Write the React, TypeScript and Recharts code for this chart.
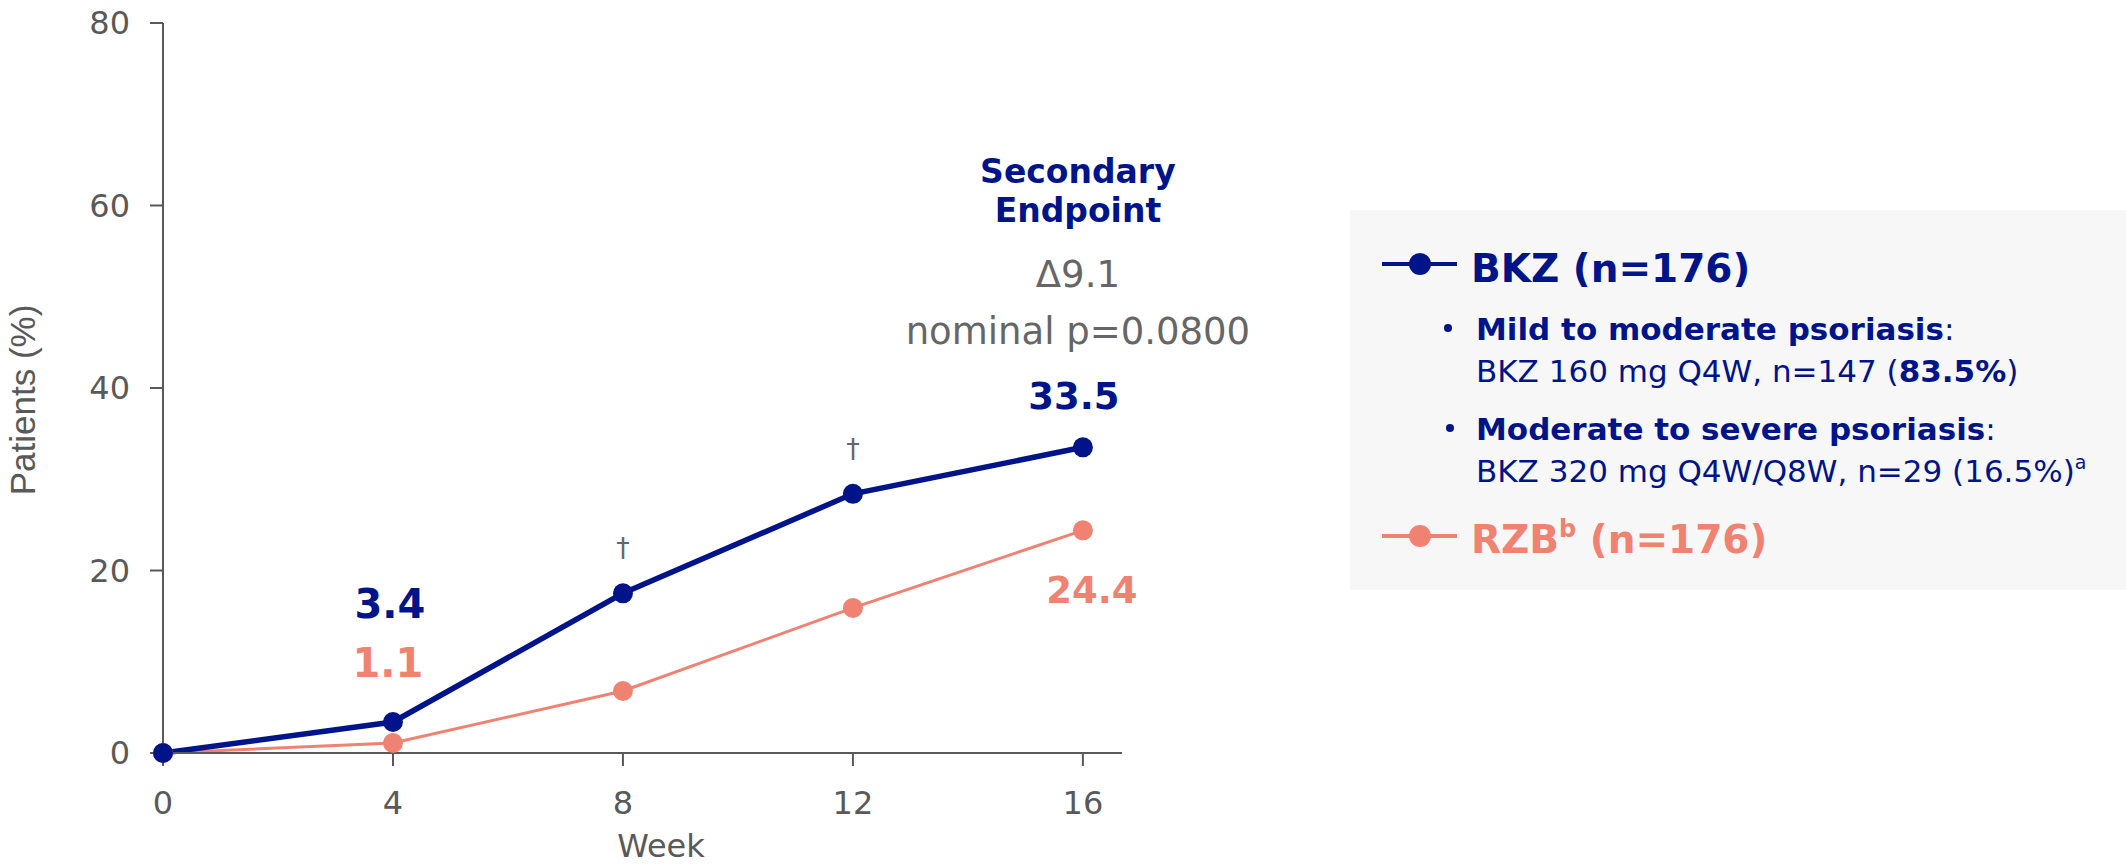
import React from 'react';
import { LineChart, Line, XAxis, YAxis, Legend, LabelList } from 'recharts';

// Proportion of patients (%) by week, per treatment arm
const weeks = [0, 4, 8, 12, 16];
const bkzValues = [0, 3.4, 17.5, 28.4, 33.5];
const rzbValues = [0, 1.1, 6.8, 15.9, 24.4];
const yTicks = [0, 20, 40, 60, 80];
const xTicks = [0, 4, 8, 12, 16];

// Weeks whose values are printed, and weeks flagged with a dagger
const labelledWeeks = [4, 16];
const daggerWeeks = [8, 12];
const endpointWeek = 16;
const endpointTitle = ['Secondary', 'Endpoint'];
const pValueText = 'nominal p=0.0800';

const NAVY = '#00148A';
const SALMON = '#F08272';
const AXIS = '#595959';
const NOTE = '#666666';
const SANS = "'Liberation Sans', Arial, sans-serif";
const WIDE = "'DejaVu Sans', Verdana, sans-serif";

const data = weeks.map((week, i) => ({ week, bkz: bkzValues[i], rzb: rzbValues[i] }));

const pointOf = (props: any) => ({
  x: props.x ?? props.viewBox?.x,
  y: props.y ?? props.viewBox?.y,
});

const renderBkzLabel = (props: any) => {
  const { x, y } = pointOf(props);
  const week = weeks[props.index];
  if (x == null || y == null) return null;
  const parts: React.ReactNode[] = [];
  if (daggerWeeks.includes(week)) {
    parts.push(
      <text key="d" x={x} y={y - 36} textAnchor="middle" fill={NOTE} fontSize={27} fontFamily={WIDE}>
        †
      </text>
    );
  }
  if (labelledWeeks.includes(week)) {
    const big = week !== endpointWeek;
    parts.push(
      <text
        key="v"
        x={x + (big ? -3 : -9)}
        y={y + (big ? -104 : -38)}
        textAnchor="middle"
        fill={NAVY}
        fontSize={big ? 40 : 37}
        fontWeight="bold"
        fontFamily={WIDE}
      >
        {props.value}
      </text>
    );
  }
  if (week === endpointWeek) {
    const last = bkzValues.length - 1;
    const delta = (bkzValues[last] - rzbValues[last]).toFixed(1);
    const cx = x - 5;
    parts.push(
      <g key="e">
        <text x={cx} y={y - 264} textAnchor="middle" fill={NAVY} fontSize={33} fontWeight="bold" fontFamily={WIDE}>
          {endpointTitle[0]}
        </text>
        <text x={cx} y={y - 225} textAnchor="middle" fill={NAVY} fontSize={33} fontWeight="bold" fontFamily={WIDE}>
          {endpointTitle[1]}
        </text>
        <text x={cx} y={y - 160} textAnchor="middle" fill={NOTE} fontSize={37} fontFamily={WIDE}>
          {`Δ${delta}`}
        </text>
        <text x={cx} y={y - 103} textAnchor="middle" fill={NOTE} fontSize={37} fontFamily={WIDE}>
          {pValueText}
        </text>
      </g>
    );
  }
  return <g>{parts}</g>;
};

const renderRzbLabel = (props: any) => {
  const { x, y } = pointOf(props);
  const week = weeks[props.index];
  if (x == null || y == null || !labelledWeeks.includes(week)) return null;
  const big = week !== endpointWeek;
  return (
    <text
      x={x + (big ? -5 : 9)}
      y={y + (big ? -66 : 73)}
      textAnchor="middle"
      fill={SALMON}
      fontSize={big ? 40 : 37}
      fontWeight="bold"
      fontFamily={WIDE}
    >
      {props.value}
    </text>
  );
};

const renderLegend = (props: any) => {
  const payload: any[] = props.payload || [];
  const colorOf = (key: string, fallback: string) =>
    payload.find((p) => p.dataKey === key)?.color || fallback;
  const bkz = colorOf('bkz', NAVY);
  const rzb = colorOf('rzb', SALMON);
  return (
    <svg width={776} height={380} style={{ display: 'block' }}>
      <rect x={0} y={0} width={776} height={380} fill="#F7F7F7" />
      <line x1={32} x2={107} y1={54} y2={54} stroke={bkz} strokeWidth={4} />
      <circle cx={70} cy={54} r={11} fill={bkz} />
      <text x={121} y={72} fill={bkz} fontSize={39} fontWeight="bold" fontFamily={WIDE}>
        BKZ (n=176)
      </text>

      <circle cx={98} cy={118} r={4} fill={bkz} />
      <text x={126} y={130} fill={bkz} fontSize={31} fontFamily={WIDE}>
        <tspan fontWeight="bold">Mild to moderate psoriasis</tspan>:
      </text>
      <text x={126} y={172} fill={bkz} fontSize={31} fontFamily={WIDE}>
        BKZ 160 mg Q4W, n=147 (<tspan fontWeight="bold">83.5%</tspan>)
      </text>

      <circle cx={100} cy={218} r={4} fill={bkz} />
      <text x={126} y={230} fill={bkz} fontSize={31} fontFamily={WIDE}>
        <tspan fontWeight="bold">Moderate to severe psoriasis</tspan>:
      </text>
      <text x={126} y={272} fill={bkz} fontSize={31} fontFamily={WIDE}>
        BKZ 320 mg Q4W/Q8W, n=29 (16.5%)
        <tspan fontSize={19} dy={-13}>a</tspan>
      </text>

      <line x1={32} x2={107} y1={326} y2={326} stroke={rzb} strokeWidth={4} />
      <circle cx={70} cy={326} r={11} fill={rzb} />
      <text x={121} y={343} fill={rzb} fontSize={39} fontWeight="bold" fontFamily={WIDE}>
        RZB<tspan fontSize={24} dy={-16}>b</tspan>
        <tspan dy={16}> (n=176)</tspan>
      </text>
    </svg>
  );
};

const renderYLabel = () => {
  const cy = 400;
  return (
    <text
      x={35}
      y={cy}
      transform={`rotate(-90, 35, ${cy})`}
      textAnchor="middle"
      fill={AXIS}
      fontSize={35}
      fontFamily={SANS}
    >
      Patients (%)
    </text>
  );
};

const renderXLabel = () => (
  <text x={661} y={857} textAnchor="middle" fill={AXIS} fontSize={32} fontFamily={WIDE}>
    Week
  </text>
);

export default function App() {
  return (
    <div style={{ position: 'absolute', left: 0, top: 0, width: 2126, height: 865, background: '#fff' }}>
      <LineChart
        width={2126}
        height={865}
        data={data}
        margin={{ top: 23, right: 1004, bottom: 0, left: 0 }}
      >
        <XAxis
          dataKey="week"
          type="number"
          domain={[0, 16.68]}
          ticks={xTicks}
          height={112}
          stroke={AXIS}
          strokeWidth={2}
          tickSize={13}
          tickMargin={25}
          tick={{ fill: AXIS, fontSize: 32, fontFamily: WIDE }}
          tickLine={{ stroke: AXIS, strokeWidth: 2 }}
          label={renderXLabel}
        />
        <YAxis
          type="number"
          domain={[0, 80]}
          ticks={yTicks}
          width={163}
          stroke={AXIS}
          strokeWidth={2}
          tickSize={13}
          tickMargin={20}
          tick={{ fill: AXIS, fontSize: 32, fontFamily: WIDE }}
          tickLine={{ stroke: AXIS, strokeWidth: 2 }}
          label={renderYLabel}
        />
        <Legend
          layout="vertical"
          align="center"
          verticalAlign="middle"
          wrapperStyle={{ left: 1350, top: 210, width: 776, height: 380 }}
          content={renderLegend}
        />
        <Line
          dataKey="rzb"
          name="RZB"
          stroke={SALMON}
          strokeWidth={3}
          dot={{ r: 10, fill: SALMON, stroke: 'none' }}
          activeDot={false}
          isAnimationActive={false}
        >
          <LabelList dataKey="rzb" content={renderRzbLabel} />
        </Line>
        <Line
          dataKey="bkz"
          name="BKZ"
          stroke={NAVY}
          strokeWidth={5.5}
          dot={{ r: 10, fill: NAVY, stroke: 'none' }}
          activeDot={false}
          isAnimationActive={false}
        >
          <LabelList dataKey="bkz" content={renderBkzLabel} />
        </Line>
      </LineChart>
    </div>
  );
}
